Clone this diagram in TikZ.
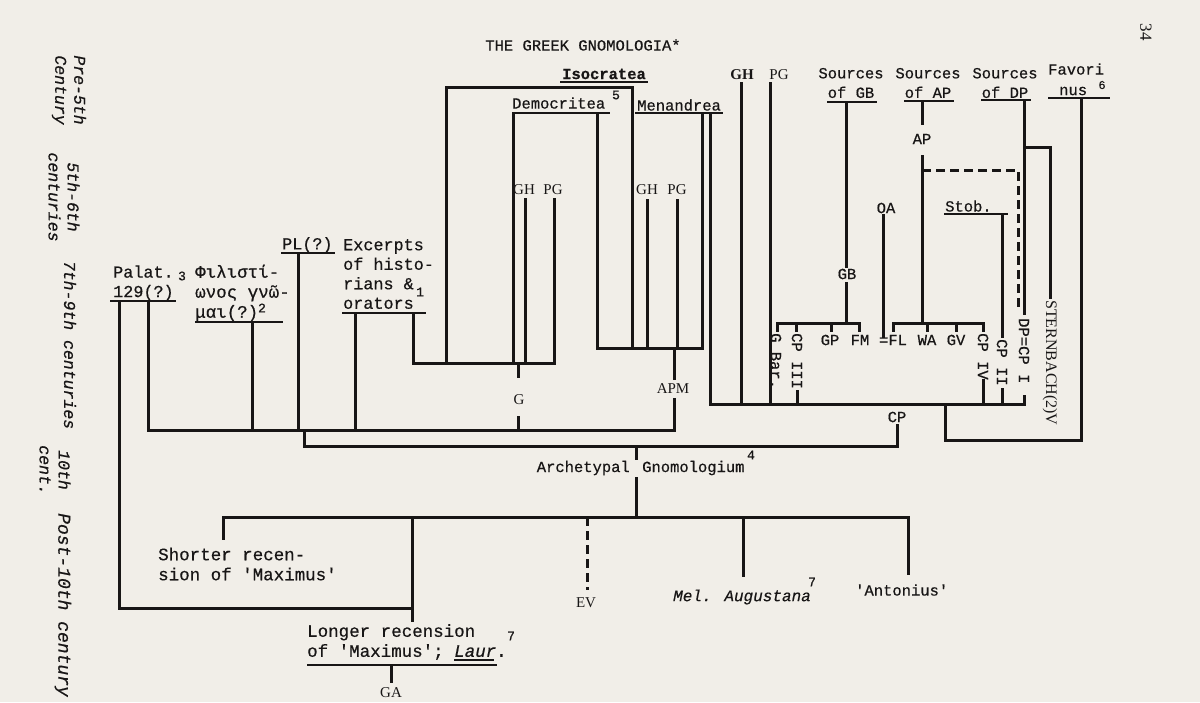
\documentclass[tikz,border=0pt]{standalone}
\usepackage{fontspec}
\setmainfont{Liberation Mono}[FakeBold=0.5]
\newfontfamily\tms{Liberation Serif}
\definecolor{paper}{RGB}{241,238,232}
\definecolor{ink}{RGB}{24,22,22}
\newcommand\sq{\textquotesingle}

\begin{document}
\begin{tikzpicture}[x=1pt,y=-1pt,
  every node/.style={inner sep=0pt,text=ink,font=\fontsize{15.5}{19.5}\selectfont},
  big/.style={font=\fontsize{16.8}{19.5}\selectfont},
  pica/.style={font=\fontsize{17.5}{20}\selectfont},
  ser/.style={font=\tms\fontsize{15}{18}\selectfont},
  per/.style={rotate=-90,align=center,font=\itshape\fontsize{16.5}{19}\selectfont},
  sup/.style={font=\fontsize{13}{13}\selectfont},
  vert/.style={rotate=-90,anchor=west},
  ln/.style={draw=ink,line width=3pt,line join=miter,line cap=rect},
  dln/.style={draw=ink,line width=3pt,line cap=butt,dash pattern=on 9pt off 5pt},
  ul/.style={draw=ink,line width=1.5pt},
]
\fill[paper] (0,0) rectangle (1200,702);
\useasboundingbox (0,0) rectangle (1200,702);

% ---------- period column ----------
\node[per] (pre5) at (69,90) {Pre-5th\\Century};
\node[per] (c56) at (64,197) {5th-6th\\centuries};
\node[per] (c79) at (70,345) {7th-9th centuries};
\node[per] (c10) at (55,470) {10th\\cent.};
\node[per,font=\itshape\fontsize{18}{20}\selectfont] (post) at (63,605) {Post-10th century};

% ---------- heading and folio ----------
\node (title) at (583,45) {THE GREEK GNOMOLOGIA*};
\node[rotate=-90,font=\tms\fontsize{17}{17}\selectfont] (folio) at (1146,32) {34};

% ---------- early sources ----------
\node[big,anchor=west,align=left] (palat) at (113,283) {Palat.\\129(?)};
\node[sup] (palatfn) at (182,276) {3};
\node[pica,anchor=west,align=left] (phil) at (195,293) {Φιλιστί-\\ωνος γνῶ-\\μαι(?)};
\node[sup] (philfn) at (262,308) {2};
\node[big,anchor=west] (pl) at (282,245) {PL(?)};
\node[big,anchor=west,align=left] (exc) at (343,274) {Excerpts\\of histo-\\rians \&\\orators};
\node[sup] (excfn) at (420,292) {1};

\node[font=\bfseries\fontsize{15.5}{19}\selectfont] (iso) at (604,74) {Isocratea};
\node[anchor=west] (dem) at (512,103) {Democritea};
\node[sup] (demfn) at (616,95) {5};
\node[anchor=west] (men) at (637,105) {Menandrea};

\node[ser] (gh1) at (524,190) {GH};
\node[ser] (pg1) at (553,190) {PG};
\node[ser] (gh2) at (647,190) {GH};
\node[ser] (pg2) at (677,190) {PG};
\node[ser] (g) at (519,400) {G};
\node[ser] (apm) at (673,389) {APM};

\node[font=\tms\bfseries\fontsize{15}{18}\selectfont] (ghT) at (742,75) {GH};
\node[ser] (pgT) at (779,75) {PG};
\node[align=center] (sgb) at (851,83) {Sources\\of GB};
\node[align=center] (sap) at (928,83) {Sources\\of AP};
\node[align=center] (sdp) at (1005,83) {Sources\\of DP};
\node[anchor=west] (fav1) at (1048,69) {Favori};
\node[anchor=west] (fav2) at (1059,91) {nus};
\node[sup,font=\fontsize{12}{12}\selectfont] (favfn) at (1102,85) {6};

\node (oa) at (886,208) {OA};
\node (ap) at (922,139) {AP};
\node (gb) at (847,274) {GB};
\node[anchor=west] (stob) at (945,206) {Stob.};

\node (gp) at (830,340) {GP};
\node (fm) at (860,340) {FM};
\node (fl) at (893,340) {=FL};
\node (wa) at (927,340) {WA};
\node (gv) at (956,340) {GV};
\node[vert] (gbar) at (776,333) {G Bar.};
\node[vert] (cp3) at (797,333) {CP III};
\node[vert] (cp4) at (983,333) {CP IV};
\node[vert] (cp2) at (1002,339) {CP II};
\node[vert] (dpcp) at (1024,318) {DP=CP I};
\node[vert,font=\tms\fontsize{16}{18}\selectfont] (stern) at (1050,300) {STERNBACH(2)V};
\node (cp) at (897,417) {CP};

% ---------- archetype and descendants ----------
\node[anchor=east] (archA) at (630,468) {Archetypal};
\node[anchor=west] (archB) at (642,468) {Gnomologium};
\node[sup] (archfn) at (751,455) {4};
\node[pica,anchor=west,align=left] (short) at (158,564) {Shorter recen-\\sion of \sq Maximus\sq};
\node[ser] (ev) at (586,603) {EV};
\node[anchor=west,font=\itshape\fontsize{16}{19}\selectfont] (mel) at (673,597) {Mel. Augustana};
\node[sup] (melfn) at (812,582) {7};
\node[anchor=west] (ant) at (855,590) {\sq Antonius\sq};
\node[pica,anchor=west,align=left] (long) at (307,642) {Longer recension\\of \sq Maximus\sq; \textit{Laur}.};
\node[sup] (longfn) at (511,636) {7};
\node[ser] (ga) at (391,693) {GA};

% ---------- title rules ----------
\draw[ul] (110,301) -- (176,301);
\draw[ul] (195,322) -- (283,322);
\draw[ul] (281,253) -- (335,253);
\draw[ul] (342,313) -- (426,313);
\draw[ul] (560,82) -- (648,82);
\draw[ul] (512,113) -- (610,113);
\draw[ul] (635,113) -- (723,113);
\draw[ul] (827,102) -- (877,102);
\draw[ul] (904,101) -- (954,101);
\draw[ul] (981,100) -- (1031,100);
\draw[ul] (1048,98) -- (1110,98);
\draw[ul] (944,214) -- (1008,214);
\draw[ul] (454,660) -- (494,660);
\draw[ul] (307,665) -- (497,665);

% ---------- junction points ----------
\coordinate (palA) at (119,301);
\coordinate (palB) at (148,301);
\coordinate (philA) at (252,322);
\coordinate (plA) at (298,253);
\coordinate (excA) at (355,313);
\coordinate (excB) at (413,313);
\coordinate (gJ) at (518,363);
\coordinate (apmJ) at (674,348);
\coordinate (h1L) at (148,430);
\coordinate (h1R) at (674,430);
\coordinate (h2L) at (304,446);
\coordinate (h2R) at (897,446);
\coordinate (arJ) at (636,446);
\coordinate (h3L) at (223,517);
\coordinate (h3R) at (908,517);
\coordinate (cpL) at (710,404);
\coordinate (cpR) at (1024,404);

% ---------- Gnomologium G ----------
\draw[ln] (excB) |- (554,363);
\draw[ln] (446,363) |- (632,87) -- (632,348);
\draw[ln] (513,113) -- (513,363);
\draw[ln] (525,199) -- (525,363);
\draw[ln] (554,199) -- (554,363);
\draw[ln] (gJ) -- (518,376);
\draw[ln] (518,417) -- (518,430);

% ---------- APM ----------
\draw[ln] (597,113) |- (702,348);
\draw[ln] (702,113) -- (702,348);
\draw[ln] (647,200) -- (647,348);
\draw[ln] (677,200) -- (677,348);
\draw[ln] (apmJ) -- (674,378);
\draw[ln] (674,399) -- (h1R);

% ---------- upper joining line ----------
\draw[ln] (palB) -- (h1L) -- (h1R);
\draw[ln] (philA) -- (252,430);
\draw[ln] (plA) -- (298,430);
\draw[ln] (excA) -- (355,430);
\draw[ln] (304,430) -- (h2L) -- (h2R);
\draw[ln] (cp.south) ++(0,3) -- (h2R);

% ---------- CP ----------
\draw[ln] (710,113) -- (cpL) -- (cpR);
\draw[ln] (741,83) -- (741,404);
\draw[ln] (770,83) -- (770,404);
\draw[ln] (846,102) -- (846,266);
\draw[ln] (846,283) -- (846,323);
\draw[ln] (777,330) |- (859,323) -- (859,330);
\draw[ln] (796,323) -- (796,330);
\draw[ln] (831,323) -- (831,330);
\draw[ln] (797,391) -- (797,404);
\draw[ln] (883,215) -- (883,336);
\draw[ln] (922,101) -- (922,123);
\draw[ln] (922,156) -- (922,323);
\draw[ln] (893,330) |- (983,323) -- (983,330);
\draw[ln] (927,323) -- (927,330);
\draw[ln] (956,323) -- (956,330);
\draw[ln] (983,380) -- (983,404);
\draw[dln] (922,170) -| (1018,310);
\draw[ln] (1002,214) -- (1002,336);
\draw[ln] (1002,389) -- (1002,404);
\draw[ln] (1024,100) -- (1024,313);
\draw[ln] (1024,396) -- (cpR);
\draw[ln] (1024,147) -| (1050,297);
\draw[ln] (1081,98) |- (945,440) -- (945,404);

% ---------- archetype ----------
\draw[ln] (arJ) -- (636,458);
\draw[ln] (636,478) -- (636,517);
\draw[ln] (h3L) -- (h3R);
\draw[ln] (h3L) -- (223,538);
\draw[ln] (412,517) -- (412,620);
\draw[dln] (587,517) -- (587,590);
\draw[ln] (743,517) -- (743,575);
\draw[ln] (h3R) -- (908,573);
\draw[ln] (palA) |- (412,608);
\draw[ln] (391,665) -- (391,681);
\end{tikzpicture}
\end{document}
